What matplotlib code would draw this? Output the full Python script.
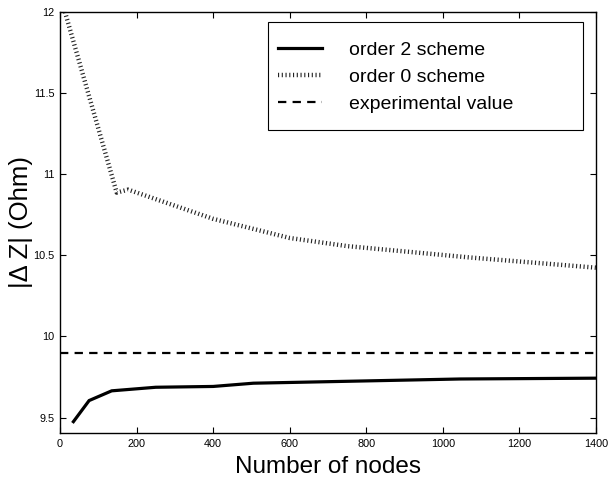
import matplotlib
matplotlib.use("Agg")
import matplotlib.pyplot as plt
from matplotlib.patches import Rectangle

plt.rcParams["font.family"] = ["Liberation Sans", "DejaVu Sans"]
plt.rcParams["lines.scale_dashes"] = False

# Donnees
nodes_order2 = [35, 76, 135, 250, 400, 505, 1045, 1400]
dz_order2 = [9.475, 9.605, 9.665, 9.687, 9.692, 9.712, 9.738, 9.743]

nodes_order0 = [13, 148, 178, 400, 600, 750, 1070, 1400]
dz_order0 = [12.0, 10.887, 10.905, 10.725, 10.607, 10.557, 10.487, 10.424]

dz_experimental = 9.9

xticks = [0, 200, 400, 600, 800, 1000, 1200, 1400]
yticks = [9.5, 10, 10.5, 11, 11.5, 12]

fig = plt.figure(figsize=(6.08, 4.79), dpi=100)
ax = fig.add_axes([0.0987, 0.096, 0.8816, 0.879])

ax.plot(nodes_order2, dz_order2, color="black", linewidth=2.3,
        label="order 2 scheme", solid_joinstyle="miter")
ax.plot(nodes_order0, dz_order0, color="#222222", linewidth=3.2,
        dashes=(0.8, 1.9), dash_capstyle="butt", label="order 0 scheme")
ax.axhline(dz_experimental, color="black", linewidth=1.6,
           dashes=(6, 4.5), label="experimental value")

ax.set_xlim(0, 1400)
ax.set_ylim(9.405, 12)
ax.set_xticks(xticks)
ax.set_yticks(yticks)
ax.set_xticklabels([str(t) for t in xticks], fontsize=7.8)
ax.set_yticklabels(["9.5", "10", "10.5", "11", "11.5", "12"], fontsize=7.8)
ax.tick_params(direction="in", length=4, width=0.8, top=True, right=True, pad=4)

for spine in ax.spines.values():
    spine.set_linewidth(1.0)

ax.set_xlabel("Number of nodes", fontsize=17.5, labelpad=5)
ax.set_ylabel("|\u0394 Z| (Ohm)", fontsize=18.5, labelpad=0)

# Cadre de legende (style MATLAB, avec marge a droite)
frame = Rectangle((0.388, 0.720), 0.588, 0.256, transform=ax.transAxes,
                  facecolor="white", edgecolor="black", linewidth=0.8, zorder=4)
ax.add_patch(frame)

leg = ax.legend(loc="center left", bbox_to_anchor=(0.4067, 0.8456), fontsize=14,
                frameon=False, handlelength=2.27, handletextpad=1.39,
                labelspacing=0.48, borderpad=0.0, borderaxespad=0.0)
leg.set_zorder(5)

fig.savefig("out.png", dpi=100)
